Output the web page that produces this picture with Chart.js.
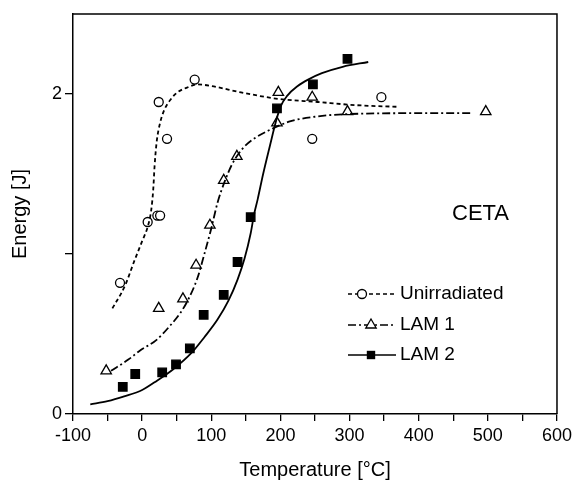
<!DOCTYPE html>
<html>
<head>
<meta charset="utf-8">
<script src="https://cdn.jsdelivr.net/npm/chart.js@4.4.1/dist/chart.umd.min.js"></script>
<style>
  html, body { margin: 0; padding: 0; background: #fff; }
</style>
</head>
<body>
<canvas id="chart" width="576" height="482"></canvas>
<script>
// Measured points
const unirrTemp = [-32, 8, 22, 26, 24, 36, 76, 246, 346];
const unirrEnergy = [0.82, 1.20, 1.24, 1.24, 1.95, 1.72, 2.09, 1.72, 1.98];

const lam1Temp = [-52, 24, 59, 78, 98, 118, 137, 195, 197, 246, 297, 497];
const lam1Energy = [0.27, 0.66, 0.72, 0.93, 1.18, 1.46, 1.61, 1.82, 2.01, 1.98, 1.89, 1.89];

const lam2Temp = [-28, -10, 29, 49, 69, 89, 118, 138, 157, 195, 247, 297];
const lam2Energy = [0.17, 0.25, 0.26, 0.31, 0.41, 0.62, 0.745, 0.95, 1.23, 1.91, 2.06, 2.22];

// Fitted curves
const unirrFitTemp = [-43, -25, -11, 0, 8, 13, 16, 18, 21, 26, 32, 42, 51, 65, 80, 100, 143, 196, 254, 310, 370];
const unirrFitEnergy = [0.66, 0.80, 0.96, 1.08, 1.17, 1.27, 1.40, 1.55, 1.70, 1.82, 1.90, 1.97, 2.01, 2.04, 2.06, 2.05, 2.01, 1.97, 1.95, 1.93, 1.92];

const lam1FitTemp = [-45, -20, -2, 20, 40, 55, 66, 80, 90, 100, 109, 120, 130, 140, 150, 165, 182, 215, 254, 300, 400, 476];
const lam1FitEnergy = [0.27, 0.34, 0.40, 0.46, 0.55, 0.63, 0.71, 0.85, 1.00, 1.16, 1.32, 1.46, 1.56, 1.63, 1.68, 1.73, 1.77, 1.83, 1.86, 1.875, 1.88, 1.88];

const lam2FitTemp = [-75, -50, -26, 0, 22, 45, 71, 90, 109, 125, 138, 148, 157, 162, 167, 175, 185, 193, 200, 210, 225, 240, 260, 290, 327];
const lam2FitEnergy = [0.06, 0.08, 0.11, 0.15, 0.21, 0.28, 0.38, 0.48, 0.59, 0.71, 0.84, 0.97, 1.13, 1.25, 1.34, 1.50, 1.68, 1.82, 1.92, 1.99, 2.05, 2.09, 2.13, 2.17, 2.20];

const xLabels = [-100, 0, 100, 200, 300, 400, 500, 600];
const yLabels = [0, 2];

const seriesNames = ['Unirradiated', 'LAM 1', 'LAM 2'];

const FONT = '"Liberation Sans", Arial, sans-serif';

function pairs(xs, ys) {
  return xs.map((x, i) => ({ x: x, y: ys[i] }));
}

function fitLine(xs, ys, dash) {
  return {
    type: 'line',
    data: pairs(xs, ys),
    borderColor: '#000',
    borderWidth: 1.8,
    borderDash: dash,
    pointRadius: 0,
    fill: false,
    cubicInterpolationMode: 'monotone',
  };
}

function scatterSet(xs, ys, style, radius, bg) {
  return {
    type: 'scatter',
    data: pairs(xs, ys),
    showLine: false,
    pointStyle: style,
    pointRadius: radius,
    pointBackgroundColor: bg,
    pointBorderColor: '#000',
    pointBorderWidth: 1.3,
  };
}

// Рамка сверху и справа
const framePlugin = {
  id: 'frame',
  afterDraw(chart) {
    const { ctx, chartArea: a } = chart;
    ctx.save();
    ctx.strokeStyle = '#000';
    ctx.lineWidth = 1.5;
    ctx.beginPath();
    ctx.moveTo(a.left, a.top);
    ctx.lineTo(a.right, a.top);
    ctx.lineTo(a.right, a.bottom);
    ctx.stroke();
    ctx.restore();
  },
};

// Легенда и подпись внутри графика
const legendPlugin = {
  id: 'insideLegend',
  afterDraw(chart) {
    const ctx = chart.ctx;
    ctx.save();
    ctx.fillStyle = '#000';
    ctx.font = '22px ' + FONT;
    ctx.textBaseline = 'middle';
    ctx.fillText('CETA', 452, 214);

    const rows = [
      { y: 294, dash: [4, 3], mx: 362, style: 'circle' },
      { y: 325, dash: [8, 3, 2, 3], mx: 371, style: 'triangle' },
      { y: 355, dash: [], mx: 371, style: 'rect' },
    ];
    ctx.font = '19px ' + FONT;
    rows.forEach((r, i) => {
      ctx.strokeStyle = '#000';
      ctx.lineWidth = 1.6;
      ctx.setLineDash(r.dash);
      ctx.beginPath();
      ctx.moveTo(348, r.y);
      ctx.lineTo(396, r.y);
      ctx.stroke();
      ctx.setLineDash([]);
      ctx.lineWidth = 1.3;
      ctx.beginPath();
      if (r.style === 'circle') {
        ctx.arc(r.mx, r.y, 4.5, 0, Math.PI * 2);
        ctx.fillStyle = '#fff';
        ctx.fill();
        ctx.stroke();
      } else if (r.style === 'triangle') {
        const s = 6;
        ctx.moveTo(r.mx, r.y - s);
        ctx.lineTo(r.mx + s * 0.866, r.y + s * 0.5);
        ctx.lineTo(r.mx - s * 0.866, r.y + s * 0.5);
        ctx.closePath();
        ctx.fillStyle = '#fff';
        ctx.fill();
        ctx.stroke();
      } else {
        ctx.fillStyle = '#000';
        ctx.fillRect(r.mx - 4.2, r.y - 4.2, 8.4, 8.4);
      }
      ctx.fillStyle = '#000';
      ctx.fillText(seriesNames[i], 400, r.y);
    });
    ctx.restore();
  },
};

const ctx = document.getElementById('chart').getContext('2d');

new Chart(ctx, {
  data: {
    datasets: [
      fitLine(unirrFitTemp, unirrFitEnergy, [4, 3]),
      fitLine(lam1FitTemp, lam1FitEnergy, [8, 3, 2, 3]),
      fitLine(lam2FitTemp, lam2FitEnergy, []),
      scatterSet(unirrTemp, unirrEnergy, 'circle', 4.5, '#fff'),
      scatterSet(lam1Temp, lam1Energy, 'triangle', 6, '#fff'),
      scatterSet(lam2Temp, lam2Energy, 'rect', 6, '#000'),
    ],
  },
  options: {
    responsive: false,
    animation: false,
    layout: { padding: { top: 14, right: 18, left: 0, bottom: 0 } },
    plugins: {
      legend: { display: false },
      tooltip: { enabled: false },
    },
    scales: {
      x: {
        type: 'linear',
        min: -100,
        max: 600,
        border: { color: '#000', width: 1.5 },
        grid: { drawOnChartArea: false, drawTicks: true, tickLength: 7, color: '#000', lineWidth: 1.3 },
        ticks: {
          stepSize: 50,
          autoSkip: false,
          maxRotation: 0,
          includeBounds: false,
          padding: 4,
          color: '#000',
          font: { family: FONT, size: 18 },
          callback: (v) => (xLabels.includes(v) ? String(v) : ''),
        },
        title: {
          display: true,
          text: 'Temperature [°C]',
          color: '#000',
          font: { family: FONT, size: 20 },
          padding: { top: 0, bottom: 0 },
        },
        afterFit: (scale) => { scale.height = 68; },
      },
      y: {
        type: 'linear',
        min: 0,
        max: 2.5,
        border: { color: '#000', width: 1.5 },
        grid: { drawOnChartArea: false, drawTicks: true, tickLength: 8, color: '#000', lineWidth: 1.3 },
        ticks: {
          stepSize: 1,
          includeBounds: false,
          padding: 3,
          color: '#000',
          font: { family: FONT, size: 18 },
          callback: (v) => (yLabels.includes(v) ? String(v) : ''),
        },
        title: {
          display: true,
          text: 'Energy [J]',
          color: '#000',
          font: { family: FONT, size: 20 },
          padding: { top: 8, bottom: 0 },
        },
        afterFit: (scale) => { scale.width = 73; },
      },
    },
  },
  plugins: [framePlugin, legendPlugin],
});
</script>
</body>
</html>
